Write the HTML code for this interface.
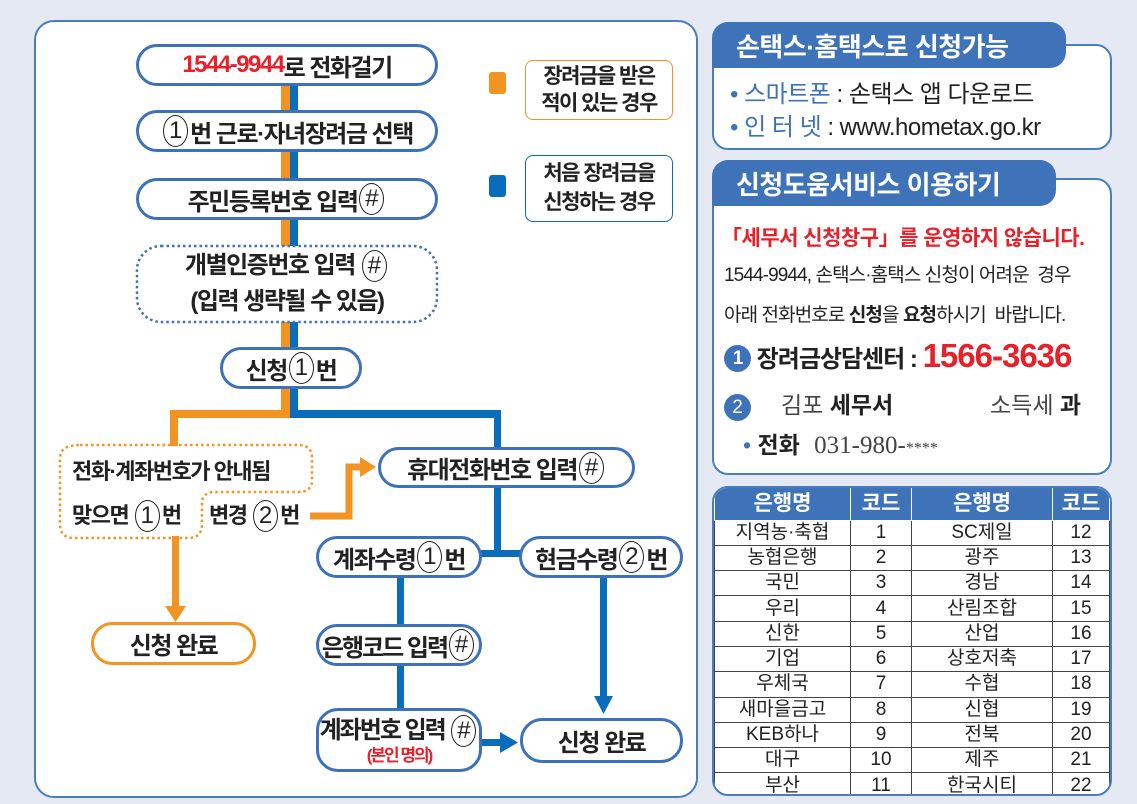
<!DOCTYPE html>
<html><head><meta charset="utf-8"><style>
*{margin:0;padding:0;box-sizing:border-box}
body{width:1137px;height:804px;background:#e4e9f4;position:relative;overflow:hidden;font-family:"Liberation Sans","Noto Sans CJK KR",sans-serif;color:#222}
.a{position:absolute}
.n{position:absolute;border:3px solid #3d72bb;border-radius:22px;background:#fff;display:flex;align-items:center;justify-content:center;font-weight:700;font-size:24px;letter-spacing:-1.5px;white-space:nowrap}
.c{display:inline-block;width:25px;height:32px;border:1.5px solid #222;border-radius:50%;text-align:center;line-height:29px;font-size:24px;font-weight:400;margin:0 2px;letter-spacing:0}
.tab{position:absolute;background:#3f73b9;color:#fff;font-weight:700;font-size:26px;padding-left:24px;display:flex;align-items:center;letter-spacing:-0.5px}
.box{position:absolute;border:2px solid #4a7cc0;border-radius:16px;background:#fff}
table{border-collapse:collapse;width:100%;font-size:19px;text-align:center}
td,th{border:1.5px solid #444;height:25.3px;padding:0;line-height:22px}
th{background:#3f73b9;color:#fff;height:32px;border-color:#fff;border-top:none;font-size:21px}
</style></head><body>
<div class="a" style="left:34px;top:20px;width:664px;height:778px;background:#fff;border:2px solid #4a7cc0;border-radius:20px"></div>
<svg class="a" style="left:0;top:0" width="1137" height="804">
<rect x="281" y="86" width="9" height="332" fill="#f39322"/>
<rect x="290" y="86" width="8" height="332" fill="#0a6dbb"/>
<rect x="170" y="410" width="120" height="8" fill="#f39322"/>
<rect x="170" y="410" width="8" height="36" fill="#f39322"/>
<rect x="290" y="410" width="211" height="8" fill="#0a6dbb"/>
<rect x="494" y="410" width="7" height="40" fill="#0a6dbb"/>
<rect x="494" y="486" width="7" height="70" fill="#0a6dbb"/>
<rect x="480" y="550" width="42" height="7" fill="#0a6dbb"/>
<rect x="397" y="576" width="7" height="52" fill="#0a6dbb"/>
<rect x="397" y="664" width="7" height="46" fill="#0a6dbb"/>
<rect x="600" y="576" width="7" height="122" fill="#0a6dbb"/>
<polygon points="594,696 613,696 603.5,714" fill="#0a6dbb"/>
<rect x="480" y="739" width="22" height="7" fill="#0a6dbb"/>
<polygon points="500,732 500,753 518,742.5" fill="#0a6dbb"/>
<rect x="172" y="536" width="7" height="74" fill="#f39322"/>
<polygon points="165,606 186,606 175.5,622" fill="#f39322"/>
<polyline points="310,516 349,516 349,467 362,467" fill="none" stroke="#f39322" stroke-width="7"/>
<polygon points="360,457 360,477 376,467" fill="#f39322"/>
<path d="M80,445 H298 Q312,445 312,458 V480 Q312,492 298,492 H215 Q202,492 202,504 V524 Q202,538 188,538 H74 Q60,538 60,524 V458 Q60,445 80,445 Z" fill="none" stroke="#f39322" stroke-width="2.5" stroke-dasharray="2.5,3"/>
<rect x="137" y="246" width="300" height="76" rx="24" fill="#fff" stroke="#3d72bb" stroke-width="2.5" stroke-dasharray="2.5,3"/>
<rect x="489" y="72" width="17" height="22" rx="3" fill="#f39322"/>
<rect x="489" y="175" width="17" height="22" rx="3" fill="#0a6dbb"/>
</svg>
<div class="n" style="left:136px;top:44px;width:302px;height:42px"><span style="color:#e8202a">1544-9944</span>로 전화걸기</div>
<div class="n" style="left:136px;top:110px;width:302px;height:42px"><span class="c">1</span>번 근로·자녀장려금 선택</div>
<div class="n" style="left:136px;top:178px;width:302px;height:42px">주민등록번호 입력 <span class="c">#</span></div>
<div class="a" style="left:137px;top:248px;width:300px;text-align:center;font-weight:700;font-size:24px;letter-spacing:-1.5px;line-height:36px">개별인증번호 입력 <span class="c">#</span><br>(입력 생략될 수 있음)</div>
<div class="n" style="left:220px;top:347px;width:142px;height:42px">신청 <span class="c">1</span>번</div>
<div class="a" style="left:72px;top:454px;font-weight:700;font-size:22px;letter-spacing:-1.5px">전화·계좌번호가 안내됨</div>
<div class="a" style="left:72px;top:498px;font-weight:700;font-size:22px;letter-spacing:-1.5px">맞으면 <span class="c">1</span>번</div>
<div class="a" style="left:209px;top:498px;font-weight:700;font-size:22px;letter-spacing:-1.5px">변경 <span class="c">2</span>번</div>
<div class="n" style="left:91px;top:622px;width:165px;height:43px;border-color:#f39322">신청 완료</div>
<div class="n" style="left:378px;top:447px;width:257px;height:41px">휴대전화번호 입력 <span class="c">#</span></div>
<div class="n" style="left:316px;top:536px;width:166px;height:42px">계좌수령 <span class="c">1</span>번</div>
<div class="n" style="left:519px;top:536px;width:164px;height:42px">현금수령 <span class="c">2</span>번</div>
<div class="n" style="left:316px;top:624px;width:166px;height:42px;letter-spacing:-2px">은행코드 입력 <span class="c">#</span></div>
<div class="n" style="left:316px;top:708px;width:166px;height:64px;flex-direction:column;line-height:28px;letter-spacing:-2px"><div>계좌번호 입력 <span class="c">#</span></div><div style="color:#e8202a;font-size:17px;line-height:18px">(본인 명의)</div></div>
<div class="n" style="left:520px;top:718px;width:163px;height:45px">신청 완료</div>
<div class="a" style="left:525px;top:60px;width:148px;height:60px;border:1.5px solid #f39322;border-radius:8px;background:#fff;text-align:center;font-weight:700;font-size:21px;line-height:27px;letter-spacing:-1.5px;padding-top:2px">장려금을 받은<br>적이 있는 경우</div>
<div class="a" style="left:525px;top:155px;width:148px;height:67px;border:1.5px solid #0a6dbb;border-radius:8px;background:#fff;text-align:center;font-weight:700;font-size:21px;line-height:29px;letter-spacing:-1.5px;padding-top:3px">처음 장려금을<br>신청하는 경우</div>

<div class="box" style="left:712px;top:44px;width:400px;height:106px"></div>
<div class="tab" style="left:712px;top:22px;width:354px;height:46px;border-radius:16px 16px 16px 0">손택스·홈택스로 신청가능</div>
<div class="a" style="left:730px;top:78px;font-size:24px;line-height:33px;letter-spacing:-0.5px;white-space:nowrap"><span style="color:#3f73b9">• 스마트폰</span> : 손택스 앱 다운로드<br><span style="color:#3f73b9">• 인 터 넷</span> : www.hometax.go.kr</div>

<div class="box" style="left:712px;top:178px;width:400px;height:297px"></div>
<div class="tab" style="left:712px;top:160px;width:344px;height:46px;border-radius:16px 16px 16px 0">신청도움서비스 이용하기</div>
<div class="a" style="left:721px;top:222px;font-size:21px;font-weight:700;color:#e8202a;letter-spacing:-0.5px;white-space:nowrap">「세무서 신청창구」를 운영하지 않습니다.</div>
<div class="a" style="left:724px;top:260px;font-size:19px;letter-spacing:-0.9px;white-space:nowrap">1544-9944, 손택스·홈택스 신청이 어려운&nbsp; 경우</div>
<div class="a" style="left:724px;top:300px;font-size:19px;letter-spacing:-0.9px;white-space:nowrap">아래 전화번호로 <b>신청</b>을 <b>요청</b>하시기&nbsp; 바랍니다.</div>
<div class="a" style="left:724px;top:337px;font-size:24px;font-weight:700;letter-spacing:-1px;white-space:nowrap"><span style="display:inline-block;width:27px;height:27px;border-radius:50%;background:#3f73b9;color:#fff;text-align:center;line-height:27px;font-size:19px;vertical-align:3px">1</span> 장려금상담센터 : <span style="color:#e8202a;font-size:33px">1566-3636</span></div>
<div class="a" style="left:724px;top:386px;font-size:23px;white-space:nowrap;width:380px"><span style="display:inline-block;width:27px;height:27px;border-radius:50%;background:#3f73b9;color:#fff;text-align:center;line-height:27px;font-size:19px">2</span><span style="margin-left:30px;color:#444">김포 <b style="color:#222">세무서</b></span><span style="position:absolute;left:266px;color:#444">소득세 <b style="color:#222">과</b></span></div>
<div class="a" style="left:743px;top:426px;font-size:23px;white-space:nowrap"><span style="color:#3f73b9">•</span> <b>전화</b> <span style="font-family:'Liberation Serif',serif;color:#444;margin-left:8px;font-size:25px">031-980-<span style="font-size:16px">****</span></span></div>

<div class="a" style="left:712px;top:486px;width:400px;height:310px;border:2px solid #4a7cc0;border-radius:16px;overflow:hidden;background:#fff">
<table>
<colgroup><col style="width:136px"><col style="width:61px"><col style="width:141px"><col></colgroup>
<tr><th>은행명</th><th>코드</th><th>은행명</th><th>코드</th></tr>
<tr><td>지역농·축협</td><td>1</td><td>SC제일</td><td>12</td></tr>
<tr><td>농협은행</td><td>2</td><td>광주</td><td>13</td></tr>
<tr><td>국민</td><td>3</td><td>경남</td><td>14</td></tr>
<tr><td>우리</td><td>4</td><td>산림조합</td><td>15</td></tr>
<tr><td>신한</td><td>5</td><td>산업</td><td>16</td></tr>
<tr><td>기업</td><td>6</td><td>상호저축</td><td>17</td></tr>
<tr><td>우체국</td><td>7</td><td>수협</td><td>18</td></tr>
<tr><td>새마을금고</td><td>8</td><td>신협</td><td>19</td></tr>
<tr><td>KEB하나</td><td>9</td><td>전북</td><td>20</td></tr>
<tr><td>대구</td><td>10</td><td>제주</td><td>21</td></tr>
<tr><td>부산</td><td>11</td><td>한국시티</td><td>22</td></tr>
</table></div>
</body></html>
